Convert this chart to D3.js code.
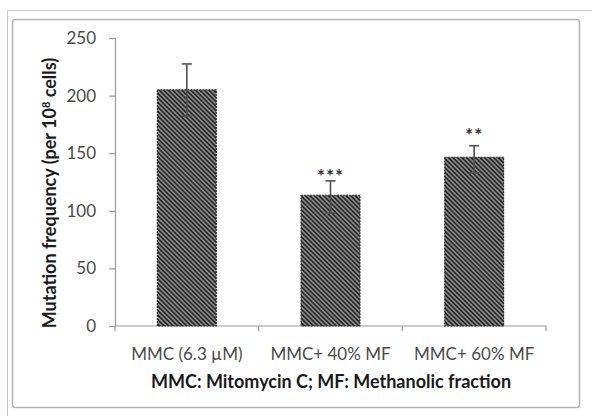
<!DOCTYPE html>
<html>
<head>
<meta charset="utf-8">
<script src="https://cdn.jsdelivr.net/npm/d3@7"></script>
<style>
  body { margin: 0; background: #fff; }
  svg { display: block; font-family: Lato, "Open Sans", sans-serif; }
</style>
</head>
<body>
<svg id="chart" width="592" height="416"></svg>
<script>
// data
var groups = ["MMC (6.3 \u00b5M)", "MMC+ 40% MF", "MMC+ 60% MF"];
var means = [205, 113.5, 146.5];
var errUp = [22.5, 12.5, 10];
var errDown = [23, 15.5, 13.5];
var marks = ["", "***", "**"];
var markAt = [0, 134, 169];   // height (in y units) of the significance marks
var yTicks = [0, 50, 100, 150, 200, 250];

var svg = d3.select("#chart");

// frame lines
svg.append("line").attr("x1", 7).attr("x2", 592).attr("y1", 10.5).attr("y2", 10.5)
    .attr("stroke", "#c8c8c8").attr("stroke-width", 1);
svg.append("line").attr("x1", 7.5).attr("x2", 7.5).attr("y1", 10).attr("y2", 416)
    .attr("stroke", "#c8c8c8").attr("stroke-width", 1);
svg.append("rect").attr("x", 12.5).attr("y", 19.5).attr("width", 567).attr("height", 388)
    .attr("rx", 3).attr("fill", "#fff").attr("stroke", "#b4b4b4").attr("stroke-width", 1.5);

var defs = svg.append("defs");
var pat = defs.append("pattern")
    .attr("id", "hatch")
    .attr("patternUnits", "userSpaceOnUse")
    .attr("width", 3.2).attr("height", 3.2)
    .attr("patternTransform", "rotate(-45)");
pat.append("rect").attr("width", 3.2).attr("height", 3.2).attr("fill", "#8a8a8a");
pat.append("rect").attr("width", 1.6).attr("height", 3.2).attr("fill", "#262626");

var x = d3.scaleBand().domain(groups).range([115, 546]).paddingInner(0.59).paddingOuter(0.295);
var y = d3.scaleLinear().domain([0, 250]).range([326, 38]);

// y axis
var yAxis = svg.append("g")
    .attr("transform", "translate(115,0)")
    .call(d3.axisLeft(y).tickValues(yTicks).tickSize(6).tickPadding(13));
yAxis.select(".domain").attr("stroke", "#9a9a9a").attr("stroke-width", 1.2);
yAxis.selectAll(".tick line").attr("stroke", "#9a9a9a").attr("stroke-width", 1.2);
yAxis.selectAll(".tick text").attr("fill", "#4a4a4a").style("font-size", "17px")
    .style("font-family", "Lato, sans-serif");

// x axis (ticks on band edges)
var xg = svg.append("g").attr("transform", "translate(0,326)");
xg.append("line").attr("x1", 115).attr("x2", 546).attr("stroke", "#9a9a9a").attr("stroke-width", 1.2);
var edges = [115].concat(groups.map(function(g) { return x(g) + x.bandwidth() / 2 + x.step() / 2; }));
xg.selectAll(".xt").data(edges).enter().append("line")
    .attr("x1", function(d) { return d; }).attr("x2", function(d) { return d; })
    .attr("y1", 0).attr("y2", 5)
    .attr("stroke", "#9a9a9a").attr("stroke-width", 1.2);
xg.selectAll(".xl").data(groups).enter().append("text")
    .attr("x", function(d) { return x(d) + x.bandwidth() / 2; })
    .attr("y", 34)
    .attr("text-anchor", "middle")
    .attr("fill", "#4a4a4a")
    .style("font-size", "17px")
    .text(function(d) { return d; });

// bars
svg.selectAll(".bar").data(means).enter().append("rect")
    .attr("x", function(d, i) { return x(groups[i]); })
    .attr("y", function(d) { return y(d); })
    .attr("width", x.bandwidth())
    .attr("height", function(d) { return y(0) - y(d); })
    .attr("fill", "url(#hatch)")
    .attr("stroke", "#303030")
    .attr("stroke-width", 1.2)
    .attr("stroke-dasharray", "2,1");

// error bars
var eb = svg.selectAll(".err").data(means).enter().append("g")
    .attr("stroke", "#505050").attr("stroke-width", 1.6);
eb.append("line")
    .attr("x1", function(d, i) { return x(groups[i]) + x.bandwidth() / 2; })
    .attr("x2", function(d, i) { return x(groups[i]) + x.bandwidth() / 2; })
    .attr("y1", function(d, i) { return y(d + errUp[i]); })
    .attr("y2", function(d, i) { return y(d - errDown[i]); });
eb.append("line")
    .attr("x1", function(d, i) { return x(groups[i]) + x.bandwidth() / 2 - 5; })
    .attr("x2", function(d, i) { return x(groups[i]) + x.bandwidth() / 2 + 5; })
    .attr("y1", function(d, i) { return y(d + errUp[i]); })
    .attr("y2", function(d, i) { return y(d + errUp[i]); });
eb.append("line")
    .attr("x1", function(d, i) { return x(groups[i]) + x.bandwidth() / 2 - 5; })
    .attr("x2", function(d, i) { return x(groups[i]) + x.bandwidth() / 2 + 5; })
    .attr("y1", function(d, i) { return y(d - errDown[i]); })
    .attr("y2", function(d, i) { return y(d - errDown[i]); });

// significance stars
svg.selectAll(".sig").data(marks).enter().append("text")
    .attr("x", function(d, i) { return x(groups[i]) + x.bandwidth() / 2; })
    .attr("y", function(d, i) { return y(markAt[i]) + 11; })
    .attr("text-anchor", "middle")
    .attr("fill", "#333")
    .style("font-size", "19px")
    .style("font-weight", "bold")
    .style("letter-spacing", "1px")
    .text(function(d) { return d; });

// axis titles
svg.append("text")
    .attr("x", 331).attr("y", 388)
    .attr("text-anchor", "middle")
    .attr("fill", "#1a1a1a")
    .style("font-size", "18px")
    .style("font-weight", "bold")
    .text("MMC: Mitomycin C; MF: Methanolic fraction");

var yt = svg.append("text")
    .attr("transform", "translate(56,193) rotate(-90)")
    .attr("text-anchor", "middle")
    .attr("fill", "#1a1a1a")
    .style("font-size", "18px")
    .style("font-weight", "bold");
yt.append("tspan").text("Mutation frequency (per 10");
yt.append("tspan").attr("dy", -6).style("font-size", "11px").text("8");
yt.append("tspan").attr("dy", 6).text(" cells)");
</script>
</body>
</html>
